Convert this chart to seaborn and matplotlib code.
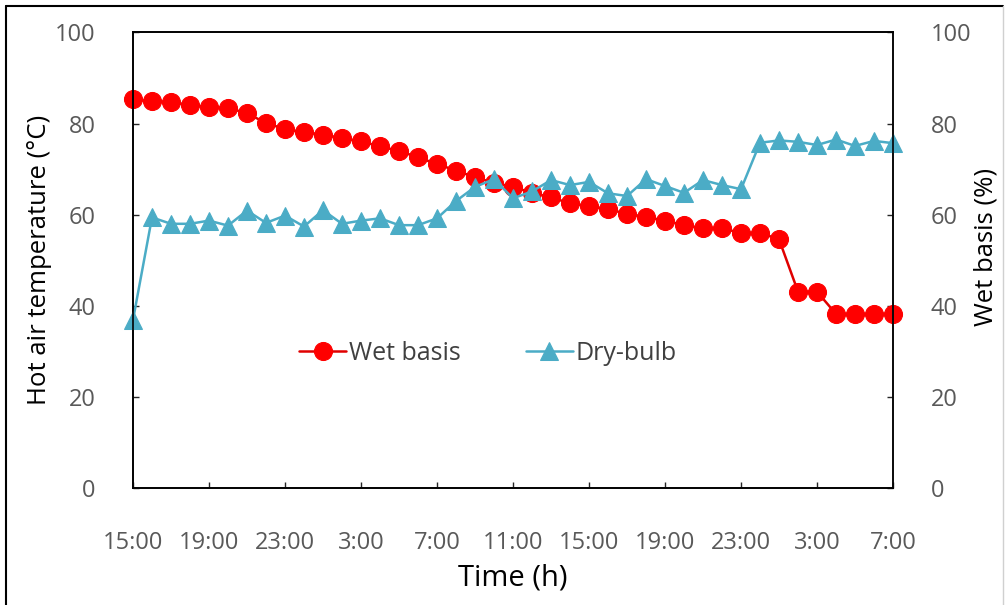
import matplotlib
matplotlib.use("Agg")
import matplotlib.pyplot as plt
import pandas as pd
import seaborn as sns
from matplotlib.lines import Line2D

# hourly readings, 15:00 day 1 -> 7:00 day 3
hours = list(range(41))
wet_basis = [85.3, 84.9, 84.7, 84.1, 83.6, 83.4, 82.3, 80.1, 78.8, 78.1, 77.6, 76.8, 76.1, 75.0,
             74.0, 72.6, 71.1, 69.7, 68.2, 67.0, 66.1, 64.8, 63.8, 62.5, 61.9, 61.2, 60.2,
             59.5, 58.7, 57.7, 57.0, 57.0, 56.0, 56.0, 54.6, 43.1, 43.1, 38.2, 38.2, 38.2, 38.2]
dry_bulb = [36.9, 59.4, 58.0, 58.0, 58.7, 57.6, 60.9, 58.2, 59.8, 57.4, 61.0, 58.0, 58.7, 59.2,
            57.7, 57.7, 59.2, 63.0, 66.1, 67.8, 63.6, 65.1, 67.6, 66.5, 67.2, 64.7, 64.1,
            67.8, 66.3, 64.8, 67.6, 66.5, 65.6, 75.8, 76.3, 76.0, 75.3, 76.5, 75.1, 76.2, 75.7]
tick_hours = list(range(0, 41, 4))
tick_labels = ["15:00", "19:00", "23:00", "3:00", "7:00", "11:00",
               "15:00", "19:00", "23:00", "3:00", "7:00"]

df = pd.DataFrame({"hour": hours, "wet": wet_basis, "dry": dry_bulb})

sns.set_theme(style="ticks")
plt.rcParams["font.family"] = ["Open Sans", "DejaVu Sans"]

RED_LINE = "#E00000"
RED = "#FF0000"
BLUE = "#4BACC6"
GREY = "#595959"

fig = plt.figure(figsize=(10.06, 6.05), dpi=100)
ax = fig.add_axes([0.1322, 0.1934, 0.7555, 0.7529])
ax2 = ax.twinx()

# wet basis on the right axis, drawn below the dry-bulb series
ax2.set_zorder(ax.get_zorder() - 1)
ax.patch.set_visible(False)

sns.lineplot(data=df, x="hour", y="wet", ax=ax2, color=RED_LINE, linewidth=1.8,
             marker="o", markersize=13, markerfacecolor=RED, markeredgecolor=RED,
             label="Wet basis", legend=False)
sns.lineplot(data=df, x="hour", y="dry", ax=ax, color=BLUE, linewidth=1.8,
             marker="^", markersize=13.5, markerfacecolor=BLUE, markeredgecolor=BLUE,
             label="Dry-bulb", legend=False)
for ln in ax.get_lines() + ax2.get_lines():
    ln.set_clip_on(False)

for a in (ax, ax2):
    a.set_xlim(0, 40)
    a.set_ylim(0, 100)
    a.set_yticks(range(0, 101, 20))
    for s in a.spines.values():
        s.set_visible(True)
        s.set_linewidth(1.2)
        s.set_color("black")

ax.set_xticks(tick_hours)
ax.set_xticklabels(tick_labels)
ax.tick_params(axis="x", direction="in", length=4, width=1, pad=31,
               labelsize=17, labelcolor=GREY, top=False, bottom=True)
ax.tick_params(axis="y", direction="in", length=4, width=1, pad=27,
               labelsize=17, labelcolor=GREY, left=True, right=False)
ax2.tick_params(axis="y", direction="in", length=4, width=1, pad=27,
                labelsize=17, labelcolor=GREY, right=True)
ax2.spines["right"].set_color("#404040")

ax.set_xlabel("Time (h)", fontsize=21, color="black")
ax.set_ylabel("Hot air temperature (°C)", fontsize=18.5, color="black")
ax2.set_ylabel("Wet basis (%)", fontsize=18.5, color="black")
ax.xaxis.set_label_coords(0.5, -0.165)
ax.yaxis.set_label_coords(-0.107, 0.5)
ax2.yaxis.set_label_coords(1.106, 0.53)

handles = [ax2.get_lines()[0], ax.get_lines()[0]]
labels = ["Wet basis", "Dry-bulb"]
leg = ax.legend(handles, labels, loc="center", bbox_to_anchor=(0.467, 0.296), ncol=2,
                frameon=False, fontsize=18, handlelength=1.9, handletextpad=0.1,
                columnspacing=2.6)
for t in leg.get_texts():
    t.set_color("#404040")

# thin frame round the picture, as in the original screenshot
fig.add_artist(Line2D([5.5 / 1006, 5.5 / 1006], [0, 1 - 6 / 605], color="black", lw=1.5))
fig.add_artist(Line2D([5.5 / 1006, 1003 / 1006], [1 - 6 / 605, 1 - 6 / 605], color="black", lw=1.5))
fig.add_artist(Line2D([1003 / 1006, 1003 / 1006], [0, 1 - 6 / 605], color="#D0D0D0", lw=1))

fig.savefig("out.png", dpi=100)
